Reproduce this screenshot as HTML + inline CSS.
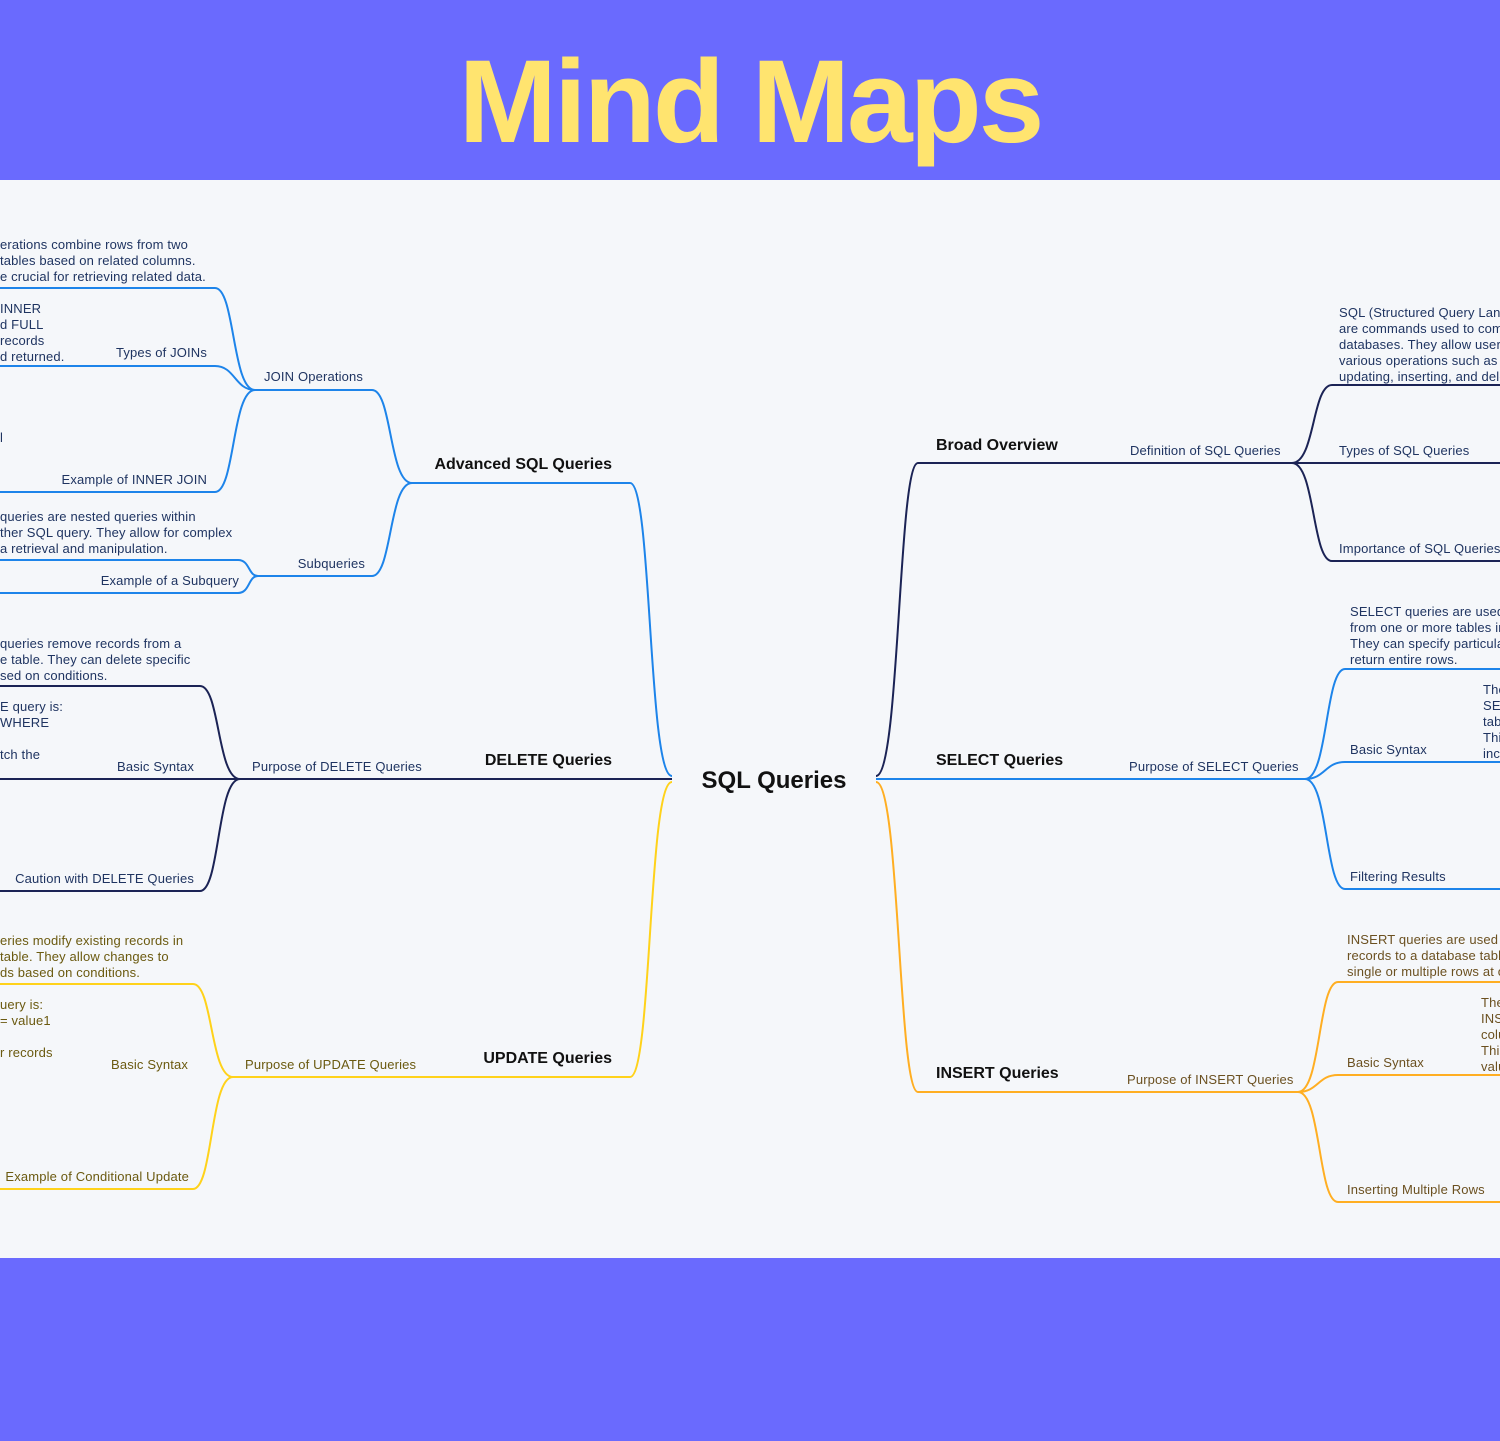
<!DOCTYPE html>
<html><head><meta charset="utf-8"><style>
html,body{margin:0;padding:0;width:1500px;height:1441px;overflow:hidden;background:#6a6afe;}
svg{display:block}
text{font-family:"Liberation Sans",sans-serif;}
.n{fill:#1f3461;font-size:13px;letter-spacing:0.15px}
.y{fill:#6b5a10;font-size:13px;letter-spacing:0.15px}
.o{fill:#6b5020;font-size:13px;letter-spacing:0.15px}
.h{fill:#111;font-size:16px;font-weight:bold}
</style></head><body>
<svg width="1500" height="1441" viewBox="0 0 1500 1441">
<rect x="0" y="0" width="1500" height="180" fill="#6a6afe"/>
<text x="750" y="142" text-anchor="middle" style="font-size:118px;font-weight:bold;fill:#ffe46f;letter-spacing:-3px">Mind Maps</text>
<rect x="0" y="180" width="1500" height="1078" fill="#f5f7fa"/>
<rect x="0" y="1258" width="1500" height="183" fill="#6a6afe"/>

<g fill="none" stroke-width="2">
<path d="M876 776 C900 776,898 463,918 463 L1292 463" stroke="#1b2355"/>
<path d="M1292 463 C1315 463,1312 385,1332 385 L1500 385" stroke="#1b2355"/>
<path d="M1292 463 L1500 463" stroke="#1b2355"/>
<path d="M1292 463 C1315 463,1312 561,1332 561 L1500 561" stroke="#1b2355"/>
<path d="M876 779 L1305 779" stroke="#1d84ea"/>
<path d="M1305 779 C1328 779,1325 669,1345 669 L1500 669" stroke="#1d84ea"/>
<path d="M1305 779 C1325 779,1325 762,1345 762 L1500 762" stroke="#1d84ea"/>
<path d="M1305 779 C1328 779,1325 889,1345 889 L1500 889" stroke="#1d84ea"/>
<path d="M876 782 C900 782,898 1092,918 1092 L1298 1092" stroke="#ffae22"/>
<path d="M1298 1092 C1321 1092,1318 982,1338 982 L1500 982" stroke="#ffae22"/>
<path d="M1298 1092 C1318 1092,1318 1075,1338 1075 L1500 1075" stroke="#ffae22"/>
<path d="M1298 1092 C1321 1092,1318 1202,1338 1202 L1500 1202" stroke="#ffae22"/>
<path d="M672 776 C648 776,652 483,630 483 L412 483" stroke="#1d84ea"/>
<path d="M412 483 C389 483,392 390,372 390 L255 390" stroke="#1d84ea"/>
<path d="M412 483 C389 483,392 576,372 576 L258 576" stroke="#1d84ea"/>
<path d="M255 390 C232 390,235 288,215 288 L0 288" stroke="#1d84ea"/>
<path d="M255 390 C235 390,235 366,215 366 L0 366" stroke="#1d84ea"/>
<path d="M255 390 C232 390,235 492,215 492 L0 492" stroke="#1d84ea"/>
<path d="M258 576 C248 576,250 560,238 560 L0 560" stroke="#1d84ea"/>
<path d="M258 576 C248 576,250 593,238 593 L0 593" stroke="#1d84ea"/>
<path d="M672 779 L240 779" stroke="#1b2355"/>
<path d="M240 779 C217 779,220 686,200 686 L0 686" stroke="#1b2355"/>
<path d="M240 779 L0 779" stroke="#1b2355"/>
<path d="M240 779 C217 779,220 891,200 891 L0 891" stroke="#1b2355"/>
<path d="M672 782 C648 782,652 1077,630 1077 L233 1077" stroke="#ffd21a"/>
<path d="M233 1077 C210 1077,213 984,193 984 L0 984" stroke="#ffd21a"/>
<path d="M233 1077 C210 1077,213 1189,193 1189 L0 1189" stroke="#ffd21a"/>
</g>

<text x="774" y="788" text-anchor="middle" style="font-size:24px;font-weight:bold;fill:#111">SQL Queries</text>

<text class="h" x="936" y="450">Broad Overview</text>
<text class="h" x="936" y="765">SELECT Queries</text>
<text class="h" x="936" y="1078">INSERT Queries</text>
<text class="h" x="612" y="469" text-anchor="end">Advanced SQL Queries</text>
<text class="h" x="612" y="765" text-anchor="end">DELETE Queries</text>
<text class="h" x="612" y="1063" text-anchor="end">UPDATE Queries</text>

<text class="n" x="1130" y="455">Definition of SQL Queries</text>
<text class="n" x="1339" y="317">SQL (Structured Query Language) queries</text>
<text class="n" x="1339" y="333">are commands used to communicate with</text>
<text class="n" x="1339" y="349">databases. They allow users to perform</text>
<text class="n" x="1339" y="365">various operations such as retrieving,</text>
<text class="n" x="1339" y="381">updating, inserting, and deleting data.</text>
<text class="n" x="1339" y="455">Types of SQL Queries</text>
<text class="n" x="1339" y="553">Importance of SQL Queries</text>

<text class="n" x="1129" y="771">Purpose of SELECT Queries</text>
<text class="n" x="1350" y="616">SELECT queries are used to retrieve data</text>
<text class="n" x="1350" y="632">from one or more tables in a database.</text>
<text class="n" x="1350" y="648">They can specify particular columns or</text>
<text class="n" x="1350" y="664">return entire rows.</text>
<text class="n" x="1350" y="754">Basic Syntax</text>
<text class="n" x="1483" y="694">The</text>
<text class="n" x="1483" y="710">SE</text>
<text class="n" x="1483" y="726">tab</text>
<text class="n" x="1483" y="742">Thi</text>
<text class="n" x="1483" y="758">inc</text>
<text class="n" x="1350" y="881">Filtering Results</text>

<text class="o" x="1127" y="1084">Purpose of INSERT Queries</text>
<text class="o" x="1347" y="944">INSERT queries are used to add new</text>
<text class="o" x="1347" y="960">records to a database table. They can add</text>
<text class="o" x="1347" y="976">single or multiple rows at once.</text>
<text class="o" x="1347" y="1067">Basic Syntax</text>
<text class="o" x="1481" y="1007">The</text>
<text class="o" x="1481" y="1023">INS</text>
<text class="o" x="1481" y="1039">colu</text>
<text class="o" x="1481" y="1055">This</text>
<text class="o" x="1481" y="1071">valu</text>
<text class="o" x="1347" y="1194">Inserting Multiple Rows</text>

<text class="n" x="264" y="381">JOIN Operations</text>
<text class="n" x="0" y="249">erations combine rows from two</text>
<text class="n" x="0" y="265"> tables based on related columns.</text>
<text class="n" x="0" y="281">e crucial for retrieving related data.</text>
<text class="n" x="0" y="313">INNER</text>
<text class="n" x="0" y="329">d FULL</text>
<text class="n" x="0" y="345"> records</text>
<text class="n" x="0" y="361">d returned.</text>
<text class="n" x="207" y="357" text-anchor="end">Types of JOINs</text>
<text class="n" x="0" y="442">l</text>
<text class="n" x="207" y="484" text-anchor="end">Example of INNER JOIN</text>
<text class="n" x="365" y="568" text-anchor="end">Subqueries</text>
<text class="n" x="0" y="521">queries are nested queries within</text>
<text class="n" x="0" y="537">ther SQL query. They allow for complex</text>
<text class="n" x="0" y="553">a retrieval and manipulation.</text>
<text class="n" x="239" y="585" text-anchor="end">Example of a Subquery</text>

<text class="n" x="252" y="771">Purpose of DELETE Queries</text>
<text class="n" x="0" y="648">queries remove records from a</text>
<text class="n" x="0" y="664">e table. They can delete specific</text>
<text class="n" x="0" y="680">sed on conditions.</text>
<text class="n" x="0" y="711">E query is:</text>
<text class="n" x="0" y="727">WHERE</text>
<text class="n" x="0" y="759">tch the</text>
<text class="n" x="194" y="771" text-anchor="end">Basic Syntax</text>
<text class="n" x="194" y="883" text-anchor="end">Caution with DELETE Queries</text>

<text class="y" x="245" y="1069">Purpose of UPDATE Queries</text>
<text class="y" x="0" y="945">eries modify existing records in</text>
<text class="y" x="0" y="961">table. They allow changes to</text>
<text class="y" x="0" y="977">ds based on conditions.</text>
<text class="y" x="0" y="1009">uery is:</text>
<text class="y" x="0" y="1025">  = value1</text>
<text class="y" x="0" y="1057">r records</text>
<text class="y" x="188" y="1069" text-anchor="end">Basic Syntax</text>
<text class="y" x="189" y="1181" text-anchor="end">Example of Conditional Update</text>
</svg>
</body></html>
